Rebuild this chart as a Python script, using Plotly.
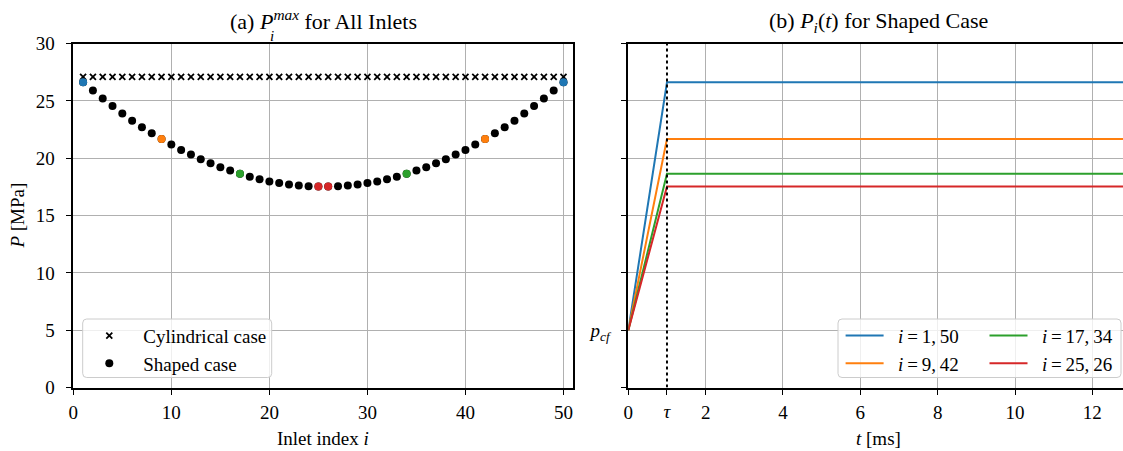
import plotly.graph_objects as go

W, H = 1123, 451

# ---------------- data ----------------
inlet_index = list(range(1, 51))
p_cylindrical = [27.1, 27.1, 27.1, 27.1, 27.1, 27.1, 27.1, 27.1, 27.1, 27.1,
                 27.1, 27.1, 27.1, 27.1, 27.1, 27.1, 27.1, 27.1, 27.1, 27.1,
                 27.1, 27.1, 27.1, 27.1, 27.1, 27.1, 27.1, 27.1, 27.1, 27.1,
                 27.1, 27.1, 27.1, 27.1, 27.1, 27.1, 27.1, 27.1, 27.1, 27.1,
                 27.1, 27.1, 27.1, 27.1, 27.1, 27.1, 27.1, 27.1, 27.1, 27.1]
p_shaped = [26.62, 25.90, 25.22, 24.55, 23.90, 23.28, 22.70, 22.18, 21.68, 21.19,
            20.72, 20.32, 19.91, 19.56, 19.21, 18.93, 18.64, 18.38, 18.18, 17.98,
            17.84, 17.72, 17.63, 17.57, 17.53, 17.53, 17.57, 17.63, 17.72, 17.84,
            17.98, 18.18, 18.38, 18.64, 18.93, 19.21, 19.56, 19.91, 20.32, 20.72,
            21.19, 21.68, 22.18, 22.70, 23.28, 23.90, 24.55, 25.22, 25.90, 26.62]

highlight_pairs = [(1, 50), (9, 42), (17, 34), (25, 26)]
highlight_colors = ["#1f77b4", "#ff7f0e", "#2ca02c", "#d62728"]
highlight_labels = ["<i>i</i>\u2009=\u20091,\u200950", "<i>i</i>\u2009=\u20099,\u200942",
                    "<i>i</i>\u2009=\u200917,\u200934", "<i>i</i>\u2009=\u200925,\u200926"]
legend_labels_a = ["Cylindrical case", "Shaped case"]

tau = 1.0          # ramp time [ms]
p_cf = 5.0         # initial pressure [MPa]
t_end = 13.0       # end of shown time [ms]
p_max_groups = [26.62, 21.68, 18.64, 17.53]

xticks_a = [0, 10, 20, 30, 40, 50]
yticks = [0, 5, 10, 15, 20, 25, 30]
xticks_b = [0, 2, 4, 6, 8, 10, 12]

# ---------------- helpers ----------------
def fx(px):
    return px / W

def fy(py):
    return 1 - py / H

FONT = "Liberation Serif"
GRID = "#b0b0b0"
tickfont = dict(family=FONT, size=19, color="black")
legfont = dict(family=FONT, size=19, color="black")

fig = go.Figure()

# ---- panel (a) ----
fig.add_trace(go.Scatter(
    x=inlet_index, y=p_cylindrical, mode="markers", name=legend_labels_a[0],
    marker=dict(symbol="x-thin", size=6, color="black", line=dict(width=1.8, color="black")),
    xaxis="x", yaxis="y", legend="legend"))
fig.add_trace(go.Scatter(
    x=inlet_index, y=p_shaped, mode="markers", name=legend_labels_a[1],
    marker=dict(symbol="circle", size=8, color="black"),
    xaxis="x", yaxis="y", legend="legend"))
for pair, col in zip(highlight_pairs, highlight_colors):
    fig.add_trace(go.Scatter(
        x=list(pair), y=[p_shaped[k - 1] for k in pair], mode="markers",
        marker=dict(symbol="circle", size=8, color=col),
        showlegend=False, xaxis="x", yaxis="y"))

# ---- panel (b) ----
fig.add_trace(go.Scatter(
    x=[tau, tau], y=[yticks[0], yticks[-1]], mode="lines",
    line=dict(color="black", width=2, dash="dot"),
    showlegend=False, xaxis="x3", yaxis="y2"))
for k, (pm, col, lab) in enumerate(zip(p_max_groups, highlight_colors, highlight_labels)):
    fig.add_trace(go.Scatter(
        x=[0, tau, t_end], y=[p_cf, pm, pm], mode="lines", name="\u00a0\u00a0" + lab,
        line=dict(color=col, width=2),
        xaxis="x2", yaxis="y2", legend="legend2" if k < 2 else "legend3"))

axis_common = dict(
    showgrid=True, gridcolor=GRID, gridwidth=1.3,
    showline=True, linecolor="black", linewidth=1.6,
    ticks="outside", ticklen=6, tickwidth=1.3, tickcolor="black",
    tickfont=tickfont, zeroline=False, automargin=False,
)

xb_range = [0, (W - 628.3) / 38.67]

fig.update_layout(
    width=W, height=H,
    margin=dict(l=0, r=0, t=0, b=0, autoexpand=False),
    paper_bgcolor="white", plot_bgcolor="white",
    font=dict(family=FONT, size=19, color="black"),
    xaxis=dict(domain=[fx(73.3), fx(573.3)], range=[0, 51], tickvals=xticks_a,
               mirror=True, anchor="y", ticklabelstandoff=1, **axis_common),
    yaxis=dict(domain=[fy(387.6), fy(43.6)], range=[0, 30], tickvals=yticks,
               mirror=True, anchor="x", ticklabelstandoff=7, **axis_common),
    xaxis2=dict(domain=[fx(628.3), 1.0], range=xb_range, tickvals=xticks_b,
                mirror=True, anchor="y2", ticklabelstandoff=1, **axis_common),
    yaxis2=dict(domain=[fy(387.6), fy(43.6)], range=[0, 30], tickvals=yticks,
                ticktext=["" if v != p_cf else "<i>p</i><sub><i>cf</i></sub>" for v in yticks],
                mirror=False, anchor="x2", ticklabelstandoff=7, **axis_common),
    xaxis3=dict(overlaying="x2", anchor="y2", range=xb_range, tickvals=[tau],
                ticktext=["<i>τ</i>"], showgrid=False, showline=False, zeroline=False,
                ticks="outside", ticklen=6, tickwidth=1.3, tickcolor="black",
                tickfont=tickfont, ticklabelstandoff=1, automargin=False),
    legend=dict(x=fx(75.3), y=fy(316.7), xanchor="left", yanchor="top",
                bgcolor="rgba(0,0,0,0)", borderwidth=0, itemwidth=58, font=legfont),
    legend2=dict(x=fx(840.6), y=fy(316.7), xanchor="left", yanchor="top",
                 bgcolor="rgba(0,0,0,0)", borderwidth=0, itemwidth=38, font=legfont),
    legend3=dict(x=fx(984.5), y=fy(316.7), xanchor="left", yanchor="top",
                 bgcolor="rgba(0,0,0,0)", borderwidth=0, itemwidth=38, font=legfont),
)

# legend frames (rounded, semi-transparent like matplotlib)
def rounded_box(x0, y0, x1, y1, r=4):
    X0, X1 = fx(x0), fx(x1)
    Y0, Y1 = fy(y1), fy(y0)
    rx, ry = r / W, r / H
    return (f"M{X0+rx},{Y0} L{X1-rx},{Y0} Q{X1},{Y0} {X1},{Y0+ry} "
            f"L{X1},{Y1-ry} Q{X1},{Y1} {X1-rx},{Y1} L{X0+rx},{Y1} "
            f"Q{X0},{Y1} {X0},{Y1-ry} L{X0},{Y0+ry} Q{X0},{Y0} {X0+rx},{Y0} Z")

for box in [(82.7, 319, 271.7, 377.5), (838, 319, 1121, 377.5)]:
    fig.add_shape(type="path", path=rounded_box(*box), xref="paper", yref="paper",
                  fillcolor="rgba(255,255,255,0.8)", line=dict(color="#cccccc", width=1),
                  layer="above")

def ann(text, x, y, size=19, **kw):
    fig.add_annotation(text=text, x=fx(x), y=fy(y), xref="paper", yref="paper",
                       showarrow=False, xanchor="center", yanchor="middle",
                       font=dict(family=FONT, size=size, color="black"), **kw)

ann("(a) <i>P</i><sup><i>max</i></sup> for All Inlets", 323.3, 20, size=22)
ann("<i>i</i>", 272, 36, size=15)
ann("(b) <i>P</i><sub><i>i</i></sub>(<i>t</i>) for Shaped Case", 878, 22, size=22)
ann("Inlet index <i>i</i>", 323.3, 438)
ann("<i>t</i> [ms]", 878, 438)
ann("<i>P</i> [MPa]", 18, 215.6, textangle=-90)

fig.write_html("out.html")
